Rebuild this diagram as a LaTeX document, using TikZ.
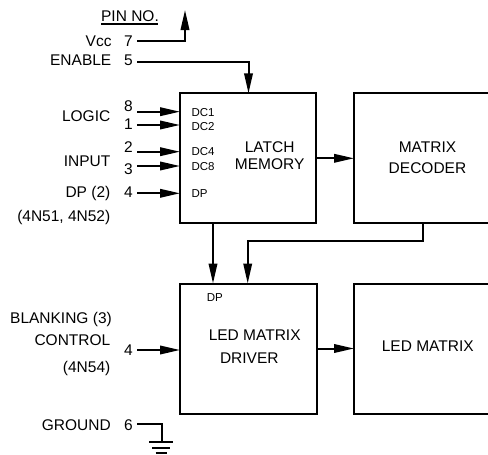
\documentclass[tikz,border=0pt]{standalone}
\usepackage{fontspec}
\setmainfont{Liberation Sans}
\usetikzlibrary{arrows.meta}
\begin{document}
\begin{tikzpicture}[x=1pt,y=-1pt,
  box/.style={draw, line width=2pt, minimum height=130pt, inner sep=0pt, outer sep=0pt},
  wire/.style={line width=2pt},
  arr/.style={wire, -{Triangle[length=20pt,width=8.5pt]}},
  lbl/.style={font=\fontsize{15.5}{17}\selectfont, inner sep=0pt, anchor=base east},
  sm/.style={font=\fontsize{11.5}{13}\selectfont, inner sep=0pt, anchor=base west},
  txt/.style={font=\fontsize{15.5}{17}\selectfont, inner sep=0pt, align=center},
]
\useasboundingbox (0,0) rectangle (488,455);
\clip (0,0) rectangle (488,455);

% boxes
\node[box, minimum width=136pt] (latch) at (248,158.3) {};
\node[box, minimum width=136.5pt] (driver) at (248.25,348.5) {};
\node[box, minimum width=150pt] (decoder) at (429,158.3) {};
\node[box, minimum width=150pt] (ledm) at (429,349) {};

% box texts
\node[txt, font=\fontsize{15.5}{16.7}\selectfont] (tlatch) at (269.7,155.9) {LATCH\\MEMORY};
\node[txt, font=\fontsize{15.5}{21}\selectfont] (tdec) at (427.5,158) {MATRIX\\DECODER};
\node[txt, font=\fontsize{15.5}{22.6}\selectfont] (tdrv) at (254.7,346.8) {LED MATRIX\\DRIVER\hspace*{10.8pt}};
\node[txt, anchor=base] (tled) at (427.8,351.7) {LED MATRIX};

% small pin labels inside boxes
\node[sm] (dc1) at (191.3,116) {DC1};
\node[sm] (dc2) at (191.3,130) {DC2};
\node[sm] (dc4) at (191.3,155.7) {DC4};
\node[sm] (dc8) at (191.3,170) {DC8};
\node[sm] (dpl) at (191.3,197.7) {DP};
\node[sm] (dpd) at (206.7,301) {DP};

% header
\node[lbl, anchor=base] (pinno) at (130,21) {PIN NO.};
\draw[line width=1.3pt] (101,24) -- (158,24);

% left labels
\node[lbl] (lvcc) at (111.7,46) {Vcc};
\node[lbl] (len) at (111.5,65) {ENABLE};
\node[lbl] (llog) at (110.5,121) {LOGIC};
\node[lbl] (linp) at (110.5,166) {INPUT};
\node[lbl] (ldp) at (110.5,197.3) {DP (2)};
\node[lbl] (l4n51) at (110.5,221) {(4N51, 4N52)};
\node[lbl] (lblank) at (112,323.3) {BLANKING (3)};
\node[lbl] (lctrl) at (110.5,345.3) {CONTROL};
\node[lbl] (l4n54) at (110.5,372) {(4N54)};
\node[lbl] (lgnd) at (111,430) {GROUND};

% pin numbers
\node[lbl] (n7) at (133,46) {7};
\node[lbl] (n5) at (133,65.5) {5};
\node[lbl] (n8) at (133,111.7) {8};
\node[lbl] (n1) at (133,129.3) {1};
\node[lbl] (n2) at (133,152.7) {2};
\node[lbl] (n3) at (133,174.3) {3};
\node[lbl] (n4) at (133,197.3) {4};
\node[lbl] (n4b) at (133,355) {4};
\node[lbl] (n6) at (133,430) {6};

% wire start points
\coordinate (s7) at (137,41);
\coordinate (s5) at (137,61.7);
\coordinate (s8) at (137,111.7);
\coordinate (s1) at (137,125);
\coordinate (s2) at (137,151.7);
\coordinate (s3) at (137,166);
\coordinate (s4) at (137,193.3);
\coordinate (s4b) at (137,350);
\coordinate (s6) at (137,424.3);
\coordinate (vcctop) at (185,10);
\coordinate (gnd) at (161.7,442);

% connectors
\draw[arr] (s7) -| (vcctop);
\draw[arr] (s5) -| (latch.north -| 248.5,0);
\draw[arr] (s8) -- (s8 -| latch.west);
\draw[arr] (s1) -- (s1 -| latch.west);
\draw[arr] (s2) -- (s2 -| latch.west);
\draw[arr] (s3) -- (s3 -| latch.west);
\draw[arr] (s4) -- (s4 -| latch.west);
\draw[arr] (s4b) -- (s4b -| driver.west);
\draw[arr] (latch.east) -- (decoder.west);
\draw[arr] (driver.east) -- (driver.east -| ledm.west);
\draw[arr] (latch.south -| 213,0) -- (driver.north -| 213,0);
\draw[arr] (decoder.south -| 422.7,0) -- (422.7,240.7) -| (driver.north -| 247.7,0);

% ground
\draw[wire] (s6) -| (gnd);
\draw[wire] (149.3,442) -- (172.7,442);
\draw[wire] (152,447.7) -- (170,447.7);
\draw[wire] (155.5,452.8) -- (166.5,452.8);
\end{tikzpicture}
\end{document}
